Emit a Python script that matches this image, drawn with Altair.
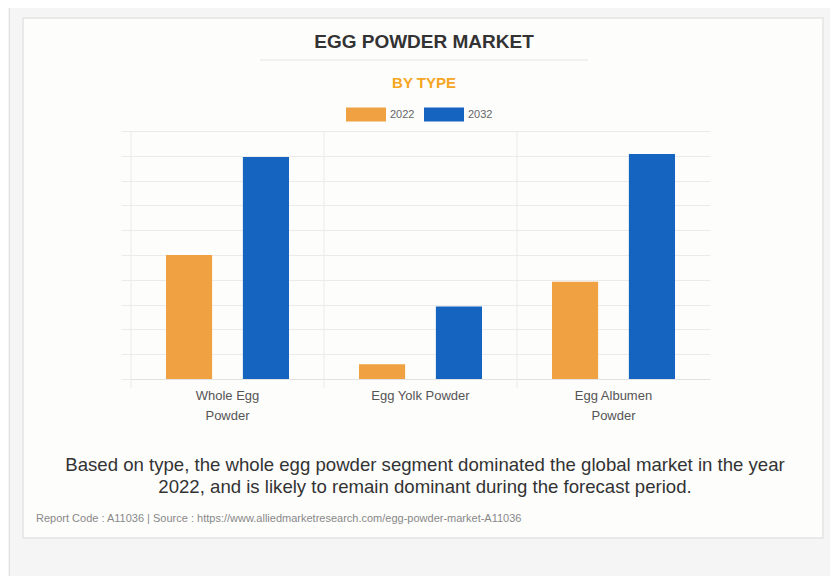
import json
import altair as alt
import pandas as pd

# ---- data ----
categories = ["Whole Egg Powder", "Egg Yolk Powder", "Egg Albumen Powder"]
years = ["2022", "2032"]
values_2022 = [5.0, 0.59, 3.92]
values_2032 = [8.95, 2.92, 9.07]
tick_label_lines = {
    "Whole Egg Powder": ["Whole Egg", "Powder"],
    "Egg Yolk Powder": ["Egg Yolk Powder"],
    "Egg Albumen Powder": ["Egg Albumen", "Powder"],
}
colors = ["#f0a242", "#1565c0"]

title_text = "EGG POWDER MARKET"
subtitle_text = "BY TYPE"
caption_lines = [
    "Based on type, the whole egg powder segment dominated the global market in the year",
    "2022, and is likely to remain dominant during the forecast period.",
]
footer_text = "Report Code : A11036  |  Source : https://www.alliedmarketresearch.com/egg-powder-market-A11036"

rows = []
for c, a, b in zip(categories, values_2022, values_2032):
    rows.append({"type": c, "year": years[0], "value": a})
    rows.append({"type": c, "year": years[1], "value": b})
df = pd.DataFrame(rows)
cat_df = pd.DataFrame({"type": categories})
one = pd.DataFrame({"a": [0]})

label_expr = "(" + json.dumps(tick_label_lines) + ")[datum.label]"

W, H = 579, 248
GRID = "#ebebeb"
FONT = "Liberation Sans"

def box(x1, x2, y1, y2, fill):
    return alt.Chart(one).mark_rect(fill=fill, strokeWidth=0).encode(
        x=alt.value(x1), x2=alt.value(x2), y=alt.value(y1), y2=alt.value(y2)
    )

GRAY = "#f5f5f6"
frame = [
    box(-123, 699, -123, -113, GRAY),
    box(-123, -108, -123, 445, GRAY),
    box(692, 699, -123, 445, GRAY),
    box(-123, 699, 407, 445, GRAY),
    box(-122, -121, -123, 445, "#e2e2e2"),
]
card = alt.Chart(one).mark_rect(fill="transparent", stroke="#e4e4e4", strokeWidth=1.5).encode(
    x=alt.value(-108), x2=alt.value(692), y=alt.value(-113), y2=alt.value(407)
)

def text(t, x, y, size, color, weight="normal", align="center"):
    return alt.Chart(one).mark_text(
        text=t, fontSize=size, color=color, fontWeight=weight, align=align,
        baseline="middle", font=FONT
    ).encode(x=alt.value(x), y=alt.value(y))

title = text(title_text, 293, -89, 19, "#333333", "bold")
subtitle = text(subtitle_text, 293, -48, 15, "#f5a623", "bold")
title_rule = alt.Chart(one).mark_rule(color="#e6e6e6", strokeWidth=1).encode(
    x=alt.value(129), x2=alt.value(457), y=alt.value(-71)
)
cap1 = text(caption_lines[0], 294, 334, 18.6, "#333333")
cap2 = text(caption_lines[1], 294, 356, 18.6, "#333333")
footer = text(footer_text, -95, 388, 11, "#888888", align="left")

x_axis = alt.Axis(
    title=None, labelAngle=0, ticks=False, domain=True, domainColor="#e2e2e2",
    labelExpr=label_expr, labelFontSize=13, labelLineHeight=20,
    labelColor="#555555", labelFont=FONT, labelPadding=10, grid=False,
)
x_scale = alt.Scale(paddingInner=0, paddingOuter=0)

vgrid = alt.Chart(cat_df).mark_rule(color=GRID, strokeWidth=1).encode(
    x=alt.X("type:N", sort=categories, bandPosition=0, scale=x_scale, axis=x_axis),
    y=alt.value(0),
    y2=alt.value(H + 9),
)

bars = alt.Chart(df).mark_bar().encode(
    x=alt.X("type:N", sort=categories, scale=x_scale, axis=x_axis),
    xOffset=alt.XOffset(
        "year:N", sort=years,
        scale=alt.Scale(paddingInner=0.4, paddingOuter=0.455),
    ),
    y=alt.Y(
        "value:Q",
        scale=alt.Scale(domain=[0, 10], nice=False),
        axis=alt.Axis(
            title=None, labels=False, domain=False, values=list(range(0, 11)),
            grid=True, gridColor=GRID, tickColor=GRID, tickSize=10,
        ),
    ),
    color=alt.Color(
        "year:N", sort=years,
        scale=alt.Scale(domain=years, range=colors),
        legend=alt.Legend(
            title=None, orient="none", direction="horizontal",
            legendX=215, legendY=-36.5,
            symbolType="M-1,-0.35h2v0.7h-2Z", symbolSize=1600,
            symbolStrokeWidth=0, symbolOpacity=1,
            labelFontSize=11, labelColor="#666666", labelFont=FONT,
            labelOffset=4, columnPadding=9,
        ),
    ),
)

chart = alt.layer(
    *frame, card, title_rule, title, subtitle, vgrid, bars, cap1, cap2, footer
).properties(
    width=W, height=H,
    background="#fdfdfc",
    padding={"left": 123, "top": 123, "right": 120, "bottom": 197},
    autosize=alt.AutoSizeParams(type="none"),
).configure_view(stroke=None)

chart.save("out.html", embed_options={"renderer": "svg", "actions": False})
